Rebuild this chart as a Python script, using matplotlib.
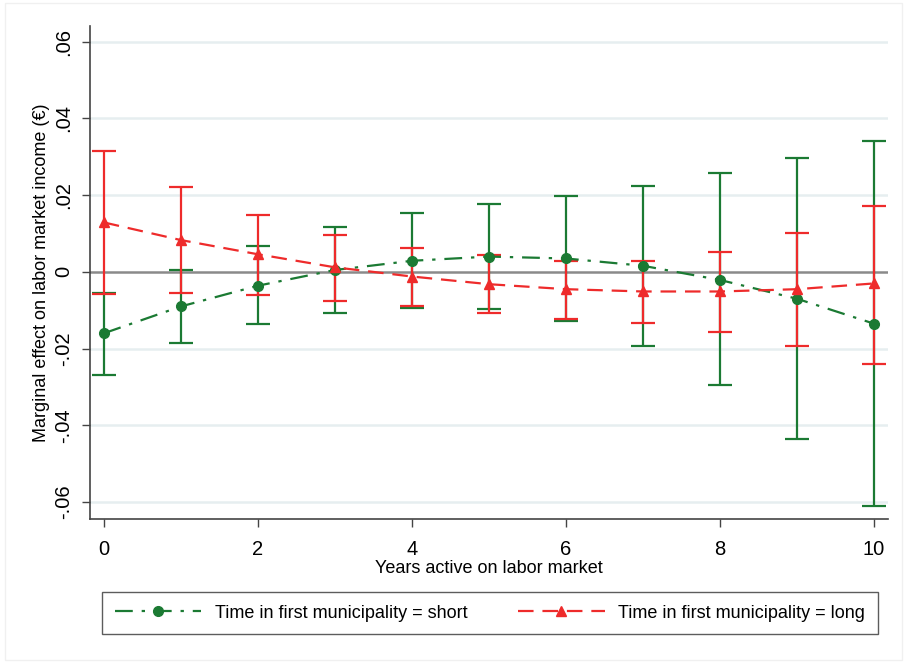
"""Marginal effects by years active on labor market, short vs long stay."""
import matplotlib
matplotlib.use("Agg")
import matplotlib.pyplot as plt
from matplotlib.patches import Rectangle

plt.rcParams['font.family'] = ['Liberation Sans', 'DejaVu Sans']

# --- Data ---
years = [0, 1, 2, 3, 4, 5, 6, 7, 8, 9, 10]

short_est = [-0.0160, -0.0090, -0.0036, 0.0005, 0.0029, 0.0040, 0.0035, 0.0016, -0.0021, -0.0070, -0.0135]
short_hi = [-0.0054, 0.0005, 0.0067, 0.0117, 0.0153, 0.0177, 0.0198, 0.0224, 0.0257, 0.0296, 0.0342]
short_lo = [-0.0269, -0.0186, -0.0136, -0.0107, -0.0093, -0.0097, -0.0127, -0.0193, -0.0296, -0.0435, -0.0610]

long_est = [0.0129, 0.0083, 0.0046, 0.0012, -0.0012, -0.0032, -0.0045, -0.0051, -0.0051, -0.0045, -0.0030]
long_hi = [0.0316, 0.0221, 0.0148, 0.0096, 0.0063, 0.0045, 0.0029, 0.0029, 0.0052, 0.0101, 0.0173]
long_lo = [-0.0058, -0.0056, -0.0060, -0.0075, -0.0090, -0.0107, -0.0123, -0.0134, -0.0157, -0.0193, -0.0240]

y_ticks = [-0.06, -0.04, -0.02, 0, 0.02, 0.04, 0.06]
y_labels = ['-.06', '-.04', '-.02', '0', '.02', '.04', '.06']
x_ticks = [0, 2, 4, 6, 8, 10]

GREEN = '#1b7a33'
RED = '#ee2b2b'

fig = plt.figure(figsize=(9.07, 6.63), dpi=100)
# faint outer frame like the exported graph region
fig.patches.append(Rectangle((0.005, 0.005), 0.99, 0.99, transform=fig.transFigure,
                             fill=False, edgecolor='#f0f0f0', lw=1))
ax = fig.add_axes([0.0992, 0.2172, 0.8798, 0.7436])

for yt in y_ticks:
    if yt != 0:
        ax.axhline(yt, color='#e6eef0', lw=1.8, zorder=0)
ax.axhline(0, color='#8a8a8a', lw=1.8, zorder=1)


def err(est, lo, hi):
    return [[e - l for e, l in zip(est, lo)], [h - e for e, h in zip(est, hi)]]


ax.errorbar(years, short_est, yerr=err(short_est, short_lo, short_hi), fmt='none',
            ecolor=GREEN, elinewidth=1.6, capsize=8.5, capthick=1.6, zorder=2)
ax.errorbar(years, long_est, yerr=err(long_est, long_lo, long_hi), fmt='none',
            ecolor=RED, elinewidth=1.6, capsize=8.5, capthick=1.6, zorder=3)

l1, = ax.plot(years, short_est, color=GREEN, lw=1.6, dashes=(8, 4, 1.5, 4),
              marker='o', ms=7, zorder=4)
l2, = ax.plot(years, long_est, color=RED, lw=1.6, dashes=(7, 4),
              marker='^', ms=7.5, zorder=5)

ax.set_xlim(-0.18, 10.18)
ax.set_ylim(-0.0644, 0.0641)
ax.set_yticks(y_ticks)
ax.set_yticklabels(y_labels, rotation=90, va='center')
ax.set_xticks(x_ticks)
ax.tick_params(labelsize=14.5, length=6, width=1, color='#444444')
ax.tick_params(axis='x', pad=9)
ax.tick_params(axis='y', pad=6)

for s in ['top', 'right']:
    ax.spines[s].set_visible(False)
for s in ['left', 'bottom']:
    ax.spines[s].set_color('#444444')
    ax.spines[s].set_linewidth(1.2)

ax.set_xlabel('Years active on labor market', fontsize=13, labelpad=1)
ax.set_ylabel('Marginal effect on labor market income (€)', fontsize=13, labelpad=3)

leg = fig.legend([l1, l2],
                 ['Time in first municipality = short', 'Time in first municipality = long'],
                 loc='center', bbox_to_anchor=(0.54, 0.0754), ncol=2, fontsize=13,
                 frameon=True, fancybox=False, edgecolor='#333333', handlelength=4.8,
                 columnspacing=2.8, borderpad=0.7, handletextpad=0.75, borderaxespad=0)
leg.get_frame().set_linewidth(1.0)

fig.savefig('out.png', dpi=100, facecolor='white')
